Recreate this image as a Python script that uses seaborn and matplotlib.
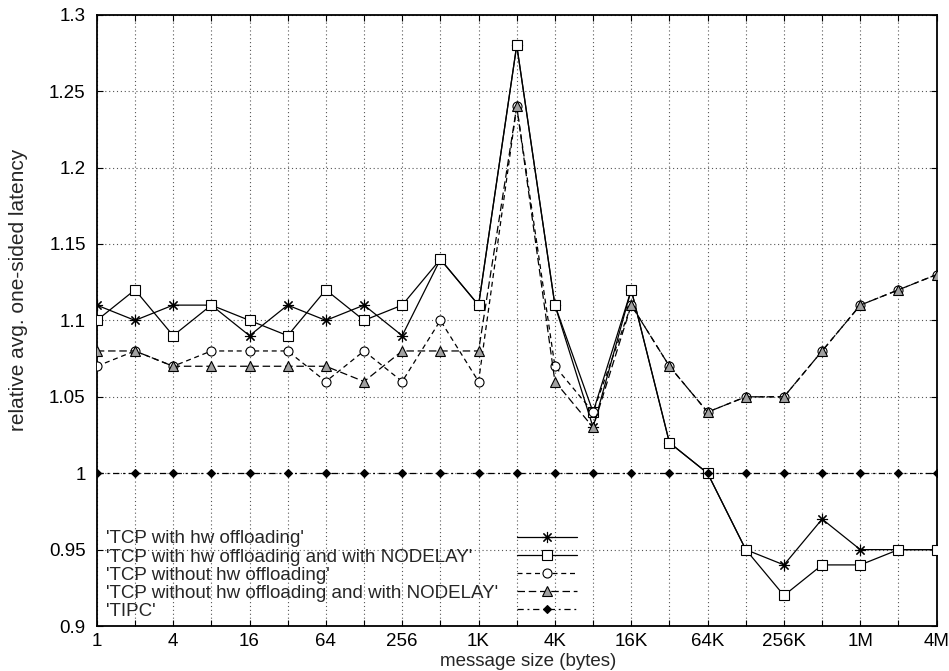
import pandas as pd
import seaborn as sns
import matplotlib.pyplot as plt

# message sizes 1 .. 4M bytes (powers of two)
sizes = [2 ** i for i in range(23)]
size_labels = ['1', '2', '4', '8', '16', '32', '64', '128', '256', '512',
               '1K', '2K', '4K', '8K', '16K', '32K', '64K', '128K', '256K',
               '512K', '1M', '2M', '4M']

tcp_hw = [1.11, 1.10, 1.11, 1.11, 1.09, 1.11, 1.10, 1.11, 1.09, 1.14, 1.11, 1.28,
          1.11, 1.03, 1.12, 1.02, 1.00, 0.95, 0.94, 0.97, 0.95, 0.95, 0.95]
tcp_hw_nodelay = [1.10, 1.12, 1.09, 1.11, 1.10, 1.09, 1.12, 1.10, 1.11, 1.14, 1.11, 1.28,
                  1.11, 1.04, 1.12, 1.02, 1.00, 0.95, 0.92, 0.94, 0.94, 0.95, 0.95]
tcp_nohw = [1.07, 1.08, 1.07, 1.08, 1.08, 1.08, 1.06, 1.08, 1.06, 1.10, 1.06, 1.24,
            1.07, 1.04, 1.11, 1.07, 1.04, 1.05, 1.05, 1.08, 1.11, 1.12, 1.13]
tcp_nohw_nodelay = [1.08, 1.08, 1.07, 1.07, 1.07, 1.07, 1.07, 1.06, 1.08, 1.08, 1.08, 1.24,
                    1.06, 1.03, 1.11, 1.07, 1.04, 1.05, 1.05, 1.08, 1.11, 1.12, 1.13]
tipc = [1.00, 1.00, 1.00, 1.00, 1.00, 1.00, 1.00, 1.00, 1.00, 1.00, 1.00, 1.00,
        1.00, 1.00, 1.00, 1.00, 1.00, 1.00, 1.00, 1.00, 1.00, 1.00, 1.00]

series = [
    ("'TCP with hw offloading'", tcp_hw),
    ("'TCP with hw offloading and with NODELAY'", tcp_hw_nodelay),
    ("'TCP without hw offloading'", tcp_nohw),
    ("'TCP without hw offloading and with NODELAY'", tcp_nohw_nodelay),
    ("'TIPC'", tipc),
]

# marker, face colour, marker size, dash pattern
styles = [
    ((8, 2, 0), 'black', 8, ''),
    ('s', 'white', 6.5, ''),
    ('o', 'white', 6.5, (4, 3)),
    ('^', '#a0a0a0', 6.5, (6, 3)),
    ('D', 'black', 4.5, (5, 3, 1.5, 3)),
]

FS = 13.5

sns.set_style('ticks')
plt.rcParams['font.family'] = ['Liberation Sans', 'DejaVu Sans']
plt.rcParams['font.size'] = FS

fig = plt.figure(figsize=(9.49, 6.71), dpi=100)
ax = fig.add_axes([0.102, 0.067, 0.885, 0.911])

for (name, vals), (mk, fc, ms, dash) in zip(series, styles):
    df = pd.DataFrame({'size': sizes, 'latency': vals})
    kw = dict(linestyle='-') if dash == '' else dict(dashes=dash)
    sns.lineplot(data=df, x='size', y='latency', ax=ax, color='black', lw=0.9,
                 marker=mk, markersize=ms, markerfacecolor=fc,
                 markeredgecolor='black', markeredgewidth=0.8,
                 label=name, zorder=3, **kw)

ax.set_xscale('log', base=2)
ax.set_xlim(1, 4 * 1024 * 1024)
ax.set_ylim(0.9, 1.3)
ax.set_xticks(sizes)
ax.set_xticklabels([l if i % 2 == 0 else '' for i, l in enumerate(size_labels)])
ax.minorticks_off()
ax.set_yticks([0.9, 0.95, 1.0, 1.05, 1.1, 1.15, 1.2, 1.25, 1.3])
ax.set_yticklabels(['0.9', '0.95', '1', '1.05', '1.1', '1.15', '1.2', '1.25', '1.3'])

ax.grid(True, linestyle=(0, (1, 2.5)), color='#555555', linewidth=0.8, zorder=0)
ax.set_axisbelow(True)
ax.tick_params(direction='in', top=True, right=True, length=4, width=0.8,
               labelsize=FS, colors='black')
ax.tick_params(axis='y', pad=8)
ax.tick_params(axis='x', pad=5)
for s in ax.spines.values():
    s.set_visible(True)
    s.set_linewidth(1.3)
    s.set_color('black')

ax.set_xlabel('message size (bytes)', fontsize=FS)
ax.xaxis.set_label_coords(0.513, -0.044)
ax.set_ylabel('relative avg. one-sided latency', fontsize=15)
ax.yaxis.set_label_coords(-0.082, 0.55)

leg = ax.legend(loc='lower left', bbox_to_anchor=(0.0, -0.005), frameon=False,
                markerfirst=False, handlelength=3.2, handletextpad=0.5,
                labelspacing=0.05, borderpad=0.5, borderaxespad=0.0, fontsize=FS)
# gnuplot style key: texts left aligned, samples in one column on the right
try:
    for col in leg._legend_handle_box.get_children():
        for item in col.get_children():
            item.mode = 'expand'
            item.width = 471
except Exception:
    pass

fig.savefig('out.png', dpi=100)
